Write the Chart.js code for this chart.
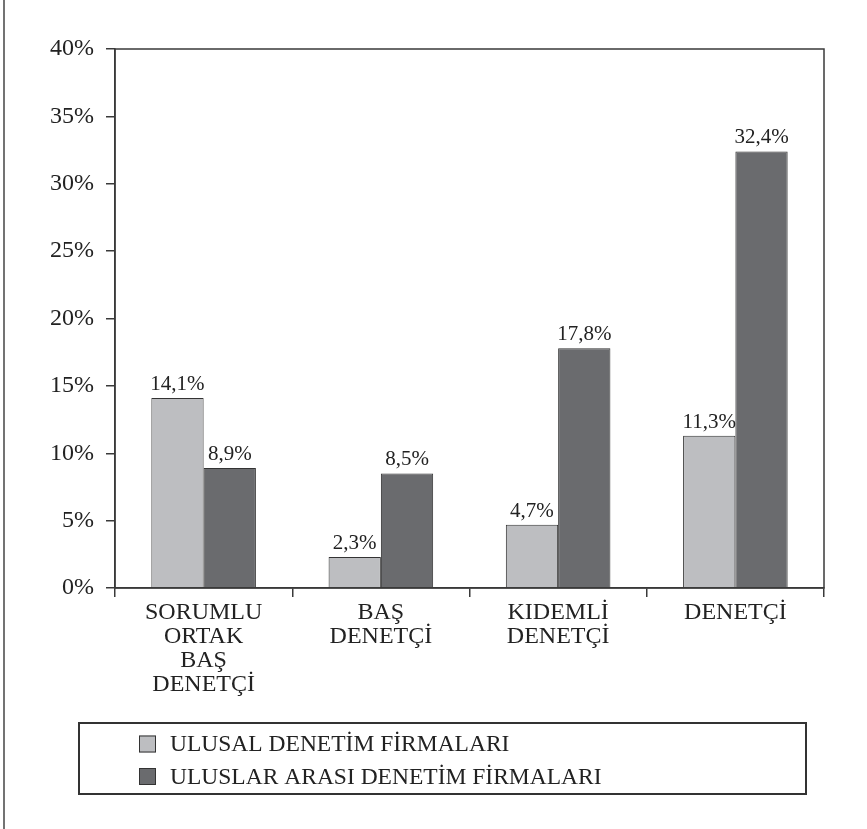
<!DOCTYPE html>
<html>
<head>
<meta charset="utf-8">
<script src="https://cdn.jsdelivr.net/npm/chart.js@4"></script>
<style>
  html, body { margin: 0; padding: 0; background: #fff; }
  #wrap { width: 867px; height: 829px; position: relative; }
</style>
</head>
<body>
<div id="wrap"><canvas id="c" width="867" height="829"></canvas></div>
<script>
// Categories (multi-line labels) and the two series, in percent
const categories = [
  ['SORUMLU', 'ORTAK', 'BAŞ', 'DENETÇİ'],
  ['BAŞ', 'DENETÇİ'],
  ['KIDEMLİ', 'DENETÇİ'],
  ['DENETÇİ']
];
const seriesNames = ['ULUSAL DENETİM FİRMALARI', 'ULUSLAR ARASI DENETİM FİRMALARI'];
const ulusal = [14.1, 2.3, 4.7, 11.3];
const uluslarArasi = [8.9, 8.5, 17.8, 32.4];
const yTicks = [0, 5, 10, 15, 20, 25, 30, 35, 40];

const SERIF = '"Liberation Serif", "Times New Roman", serif';
const INK = '#222';
const LINE = '#3a3a3a';
const fills = ['#bdbec1', '#6a6b6e'];

const fmt = v => v.toFixed(1).replace('.', ',') + '%';

// Box around the plot area, value labels, legend box and the left frame rule
const decorations = {
  id: 'decorations',
  afterDatasetsDraw(chart) {
    const ctx = chart.ctx;
    const a = chart.chartArea;
    ctx.save();
    ctx.strokeStyle = LINE;
    ctx.lineWidth = 1.5;
    ctx.strokeRect(a.left, a.top, a.right - a.left, a.bottom - a.top);

    // values above bars
    ctx.fillStyle = INK;
    ctx.font = '21px ' + SERIF;
    ctx.textAlign = 'center';
    ctx.textBaseline = 'alphabetic';
    chart.data.datasets.forEach((ds, i) => {
      chart.getDatasetMeta(i).data.forEach((bar, j) => {
        ctx.fillText(fmt(ds.data[j]), bar.x, bar.y - 8);
      });
    });

    // legend box
    const box = { x: 79, y: 723, w: 727, h: 71 };
    ctx.lineWidth = 2;
    ctx.strokeStyle = '#333';
    ctx.strokeRect(box.x, box.y, box.w, box.h);
    ctx.font = '23.5px ' + SERIF;
    ctx.textAlign = 'left';
    ctx.textBaseline = 'middle';
    chart.data.datasets.forEach((ds, i) => {
      const cy = 744 + i * 32.5;
      ctx.fillStyle = ds.backgroundColor;
      ctx.fillRect(139, cy - 8.5, 17, 17);
      ctx.lineWidth = 1;
      ctx.strokeStyle = '#333';
      ctx.strokeRect(139.5, cy - 8, 16, 16);
      ctx.fillStyle = INK;
      ctx.fillText(ds.label, 170, cy + 1);
    });

    // left frame rule
    ctx.strokeStyle = '#444';
    ctx.lineWidth = 1.5;
    ctx.beginPath();
    ctx.moveTo(4, 0);
    ctx.lineTo(4, chart.height);
    ctx.stroke();
    ctx.restore();
  }
};

new Chart(document.getElementById('c'), {
  type: 'bar',
  data: {
    labels: categories,
    datasets: [
      { label: seriesNames[0], data: ulusal, backgroundColor: fills[0], borderColor: '#333', borderWidth: 1 },
      { label: seriesNames[1], data: uluslarArasi, backgroundColor: fills[1], borderColor: '#333', borderWidth: 1 }
    ]
  },
  options: {
    responsive: false,
    animation: false,
    devicePixelRatio: 1,
    layout: { padding: { left: 0, top: 49, right: 43, bottom: 0 } },
    datasets: { bar: { categoryPercentage: 0.59, barPercentage: 1.0 } },
    plugins: { legend: { display: false }, tooltip: { enabled: false } },
    scales: {
      x: {
        offset: true,
        grid: { offset: true, drawOnChartArea: false, drawTicks: true, tickLength: 9, color: LINE, lineWidth: 1.5 },
        border: { display: true, color: LINE, width: 1.5 },
        ticks: { color: INK, font: { family: SERIF, size: 24, lineHeight: 1.0 }, padding: 4, maxRotation: 0, autoSkip: false },
        afterFit(scale) { scale.height = 829 - 588; }
      },
      y: {
        min: 0,
        max: 40,
        afterBuildTicks(scale) { scale.ticks = yTicks.map(v => ({ value: v })); },
        grid: { drawOnChartArea: false, drawTicks: true, tickLength: 9, color: LINE, lineWidth: 1.5 },
        border: { display: true, color: LINE, width: 1.5 },
        ticks: { color: INK, font: { family: SERIF, size: 24 }, padding: 12, callback: v => v + '%' },
        afterFit(scale) { scale.width = 115; }
      }
    }
  },
  plugins: [decorations]
});
</script>
</body>
</html>
